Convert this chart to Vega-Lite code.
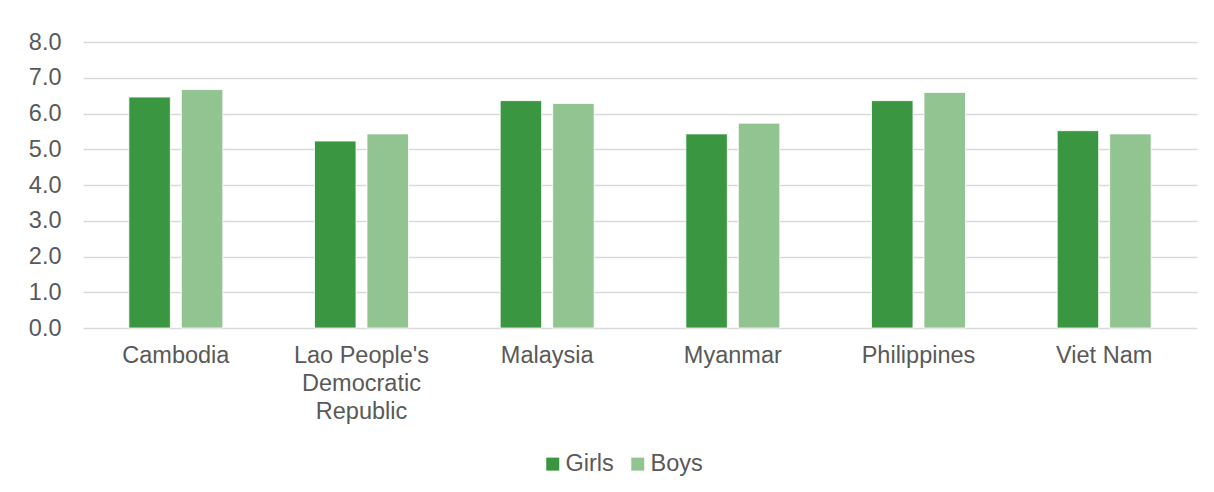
{
  "$schema": "https://vega.github.io/schema/vega-lite/v6.json",
  "autosize": {"type": "none"},
  "width": 1114,
  "height": 286,
  "padding": {"left": 83, "top": 42, "right": 17, "bottom": 164},
  "background": "#ffffff",
  "data": {
    "values": [
      {"country": "Cambodia", "sex": "Girls", "value": 6.46},
      {"country": "Cambodia", "sex": "Boys", "value": 6.67},
      {"country": "Lao People's Democratic Republic", "sex": "Girls", "value": 5.23},
      {"country": "Lao People's Democratic Republic", "sex": "Boys", "value": 5.43},
      {"country": "Malaysia", "sex": "Girls", "value": 6.36},
      {"country": "Malaysia", "sex": "Boys", "value": 6.28},
      {"country": "Myanmar", "sex": "Girls", "value": 5.43},
      {"country": "Myanmar", "sex": "Boys", "value": 5.73},
      {"country": "Philippines", "sex": "Girls", "value": 6.36},
      {"country": "Philippines", "sex": "Boys", "value": 6.59},
      {"country": "Viet Nam", "sex": "Girls", "value": 5.52},
      {"country": "Viet Nam", "sex": "Boys", "value": 5.43}
    ]
  },
  "mark": {"type": "bar", "stroke": "#ffffff", "strokeWidth": 0.8},
  "encoding": {
    "x": {
      "field": "country",
      "type": "nominal",
      "sort": null,
      "title": null,
      "scale": {"paddingInner": 0.494, "paddingOuter": 0.247},
      "axis": {
        "labelAngle": 0,
        "domain": false,
        "ticks": false,
        "labelPadding": 15,
        "labelFont": "Liberation Sans",
        "labelFontSize": 23.5,
        "labelColor": "#595959",
        "labelLimit": 0,
        "labelLineHeight": 28,
        "labelBaseline": "top",
        "labelExpr": "datum.label == \"Lao People's Democratic Republic\" ? [\"Lao People's\", \"Democratic\", \"Republic\"] : datum.label"
      }
    },
    "xOffset": {
      "field": "sex",
      "type": "nominal",
      "sort": ["Girls", "Boys"],
      "scale": {"paddingInner": 0.21, "paddingOuter": 0}
    },
    "y": {
      "field": "value",
      "type": "quantitative",
      "title": null,
      "scale": {"domain": [0, 8], "nice": false},
      "axis": {
        "values": [0, 1, 2, 3, 4, 5, 6, 7, 8],
        "format": ".1f",
        "domain": false,
        "ticks": false,
        "labelPadding": 22,
        "labelFont": "Liberation Sans",
        "labelFontSize": 23.5,
        "labelColor": "#595959",
        "gridColor": "#d9d9d9",
        "gridWidth": 1.3
      }
    },
    "color": {
      "field": "sex",
      "type": "nominal",
      "sort": ["Girls", "Boys"],
      "scale": {"domain": ["Girls", "Boys"], "range": ["#3a9641", "#91c490"]},
      "legend": {
        "title": null,
        "orient": "none",
        "legendX": 458,
        "legendY": 410,
        "direction": "horizontal",
        "symbolType": "square",
        "symbolSize": 169,
        "symbolStrokeWidth": 0,
        "labelFont": "Liberation Sans",
        "labelFontSize": 23.5,
        "labelColor": "#595959",
        "labelOffset": 1,
        "columnPadding": 12
      }
    }
  },
  "config": {
    "view": {"stroke": null}
  }
}
